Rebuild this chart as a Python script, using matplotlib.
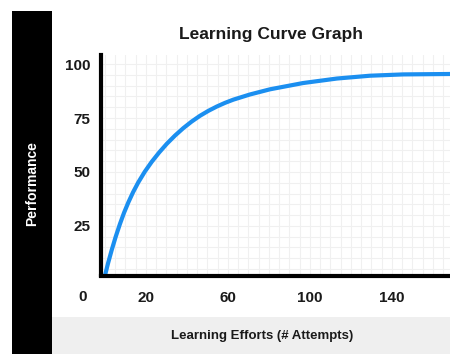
import numpy as np
import matplotlib
matplotlib.use("Agg")
import matplotlib.pyplot as plt
from matplotlib.patches import Rectangle

plt.rcParams['font.family'] = ['Liberation Sans', 'DejaVu Sans']

# Data
attempts = [0, 1.5, 3.3, 5.2, 7.3, 9.3, 11.4, 13.7, 16.2, 19.4, 22.8, 26.4, 30.2,
            34.2, 38.2, 42.2, 46.3, 50.4, 54.5, 58.5, 62.6, 70.7, 80.5, 96.6,
            113.2, 129.3, 145.4, 168.3]
performance = [2.0, 7.7, 13.9, 19.9, 25.9, 31.1, 35.9, 40.6, 45.1, 50.1, 54.7,
               59.0, 63.1, 66.9, 70.3, 73.3, 76.0, 78.3, 80.3, 82.0, 83.5, 85.9,
               88.3, 91.2, 93.3, 94.6, 95.2, 95.4]
x_ticks = [20, 60, 100, 140]
x_tick_labels = ["20", "60", "100", "140"]
y_ticks = [25, 50, 75, 100]
y_tick_labels = ["25", "50", "75", "100"]
corner_label = "0"
title = "Learning Curve Graph"
x_label = "Learning Efforts (# Attempts)"
y_label = "Performance"

W, H = 450, 354
fig = plt.figure(figsize=(W / 100, H / 100), dpi=100)
fig.patch.set_facecolor("white")

# Black band on the left with vertical label
fig.add_artist(Rectangle((12 / W, 0), 40 / W, (H - 10.7) / H, transform=fig.transFigure,
                         facecolor="black", edgecolor="none", zorder=0))
fig.text(32 / W, 1 - 184 / H, y_label, rotation=90, color="white", fontsize=10,
         fontweight="bold", ha="center", va="center")

# Gray band at the bottom with x label
fig.add_artist(Rectangle((52 / W, 0), (W - 52) / W, (H - 317) / H, transform=fig.transFigure,
                         facecolor="#efefef", edgecolor="none", zorder=0))
fig.text(262 / W, 1 - 336 / H, x_label, color="#1a1a1a", fontsize=9.5,
         fontweight="bold", ha="center", va="center")

# Title
fig.text(271 / W, 1 - 35 / H, title, color="#1a1a1a", fontsize=12.5,
         fontweight="bold", ha="center", va="center")

left, right, top, bottom = 101.3, 450, 55, 275.5
ax = fig.add_axes([left / W, 1 - bottom / H, (right - left) / W, (bottom - top) / H])
ax.set_facecolor("none")

ax.plot(attempts, performance, color="#1b8ff0", lw=3, solid_capstyle="round",
        solid_joinstyle="round", zorder=3, clip_on=False)

ax.set_xlim(-1.8, 168.3)
ax.set_ylim(2.0, 104.2)

ax.set_xticks(x_ticks)
ax.set_xticklabels(x_tick_labels)
ax.set_yticks(y_ticks)
ax.set_yticklabels(y_tick_labels)
ax.set_xticks(np.arange(0, 170, 5), minor=True)
ax.set_yticks(np.arange(5, 105, 5), minor=True)
ax.tick_params(axis="both", which="both", length=0)
ax.tick_params(axis="x", pad=11.5, labelsize=11, labelcolor="#1a1a1a")
ax.tick_params(axis="y", pad=8, labelsize=11, labelcolor="#1a1a1a")
for lab in ax.get_xticklabels() + ax.get_yticklabels():
    lab.set_fontweight("bold")

ax.grid(True, which="both", color="#f0f0f0", linewidth=0.8, zorder=0)
ax.set_axisbelow(True)

for s in ["top", "right"]:
    ax.spines[s].set_visible(False)
for s in ["left", "bottom"]:
    ax.spines[s].set_color("black")
    ax.spines[s].set_linewidth(3)
    ax.spines[s].set_zorder(4)

fig.text(82.7 / W, 1 - 297 / H, corner_label, color="#1a1a1a", fontsize=11,
         fontweight="bold", ha="center", va="center")

fig.savefig("out.png", dpi=100)
